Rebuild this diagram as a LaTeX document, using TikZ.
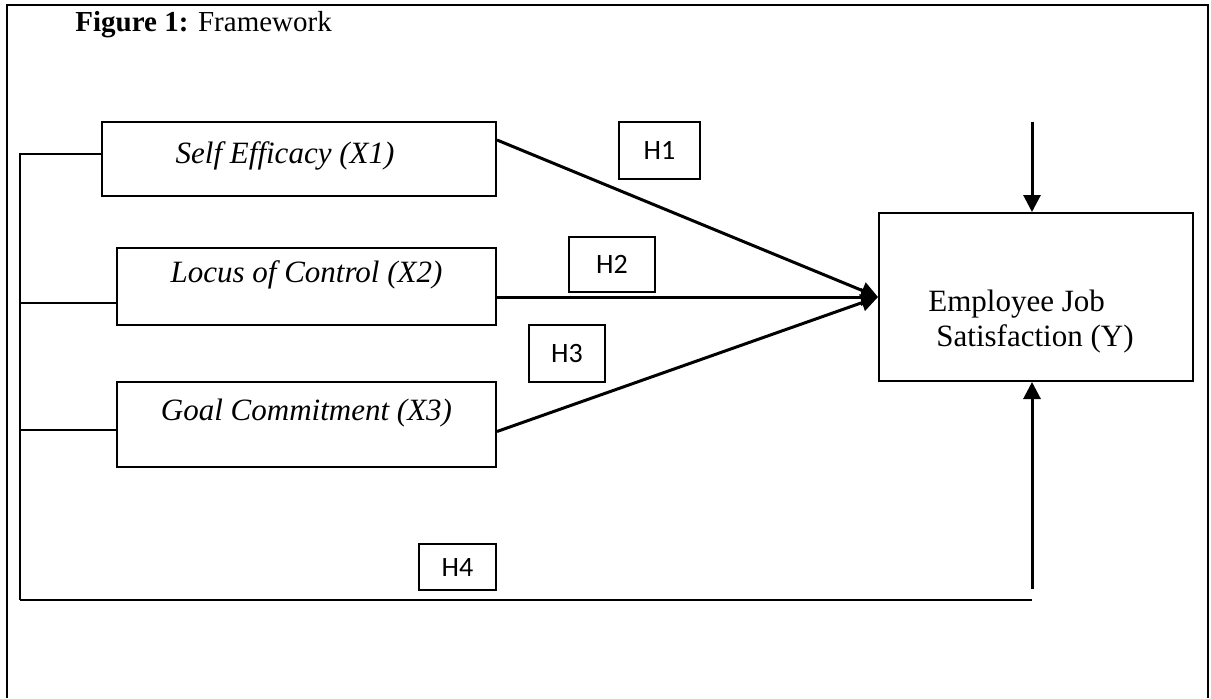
\documentclass[tikz,border=0pt]{standalone}
\usepackage{fontspec}
\setmainfont{Liberation Serif}
\newfontfamily\hfont{Carlito}
\usetikzlibrary{arrows.meta, positioning}

\begin{document}
\begin{tikzpicture}[
        x=0.5pt, y=-0.5pt,
        var/.style={rectangle, draw, line width=1pt, inner sep=0pt,
                    font=\fontsize{15.5}{18}\selectfont\itshape},
        outcome/.style={rectangle, draw, line width=1pt,
                        minimum width=157pt, minimum height=84pt},
        hyp/.style={rectangle, draw, line width=0.6pt, inner sep=0pt,
                    font=\hfont\fontsize{14}{16}\selectfont},
        effect/.style={-{Triangle[length=8.5pt, width=8.5pt]}, line width=1.5pt},
        wire/.style={line width=1pt},
      ]
        \useasboundingbox (0,0) rectangle (1211,698);
        \draw[line width=1pt] (7,698) -- (7,5) -- (1208,5) -- (1208,698);

        \node[anchor=base west, inner sep=0pt, font=\fontsize{14.5}{16}\selectfont]
          (title) at (75,31) {\textbf{Figure 1:} Framework};

        \node[var, minimum width=197pt, text height=20.5pt, text depth=16.5pt]
          (x1) at (299,159) {Self Efficacy (X1)\hspace*{14pt}};
        \node[var, minimum width=189.5pt, text height=17pt, text depth=21.5pt]
          (x2) at (306.5,286.5) {Locus of Control (X2)};
        \node[var, minimum width=189.5pt, text height=19pt, text depth=23.5pt]
          (x3) at (306.5,424.5) {Goal Commitment (X3)};

        \node[outcome] (ybox) at (1036,297) {};
        \node[font=\fontsize{15.5}{17.5}\selectfont, align=left, inner sep=0pt]
          (ytext) at (1035,322) {\hspace*{-4pt}Employee Job\\Satisfaction (Y)};

        \node[hyp, minimum width=40.5pt, minimum height=28.5pt] (h1) at (659.5,150.5) {H1};
        \node[hyp, minimum width=43pt,   minimum height=27.5pt] (h2) at (612,264.5)   {H2};
        \node[hyp, minimum width=38pt,   minimum height=28.5pt] (h3) at (567,353.5)   {H3};
        \node[hyp, minimum width=38.5pt, minimum height=23pt]   (h4) at (457.5,567)   {H4};

        \draw[effect] ([yshift=9.5pt]x1.east) -- (ybox.west);
        \draw[effect] (x2.east |- ybox.west) -- (ybox.west);
        \draw[effect] ([yshift=-3.5pt]x3.east) -- (ybox.west);

        % joint path of the three variables (H4)
        \coordinate (s1) at (20,154);
        \coordinate (s2) at (20,303);
        \coordinate (s3) at (20,430);
        \coordinate (corner) at (20,600);
        \coordinate (foot) at (1032,600);
        \draw[wire] (s1 -| x1.west) -- (s1) -- (corner);
        \draw[wire] (s2) -- (s2 -| x2.west);
        \draw[wire] (s3) -- (s3 -| x3.west);
        \draw[line width=1.3pt] (corner) -- (foot);

        \coordinate (ytop) at (1032,122);
        \coordinate (ystem) at (1032,589);
        \draw[effect] (ytop) -- (ytop |- ybox.north);
        \draw[effect] (ystem) -- (ystem |- ybox.south);
      \end{tikzpicture}
\end{document}
